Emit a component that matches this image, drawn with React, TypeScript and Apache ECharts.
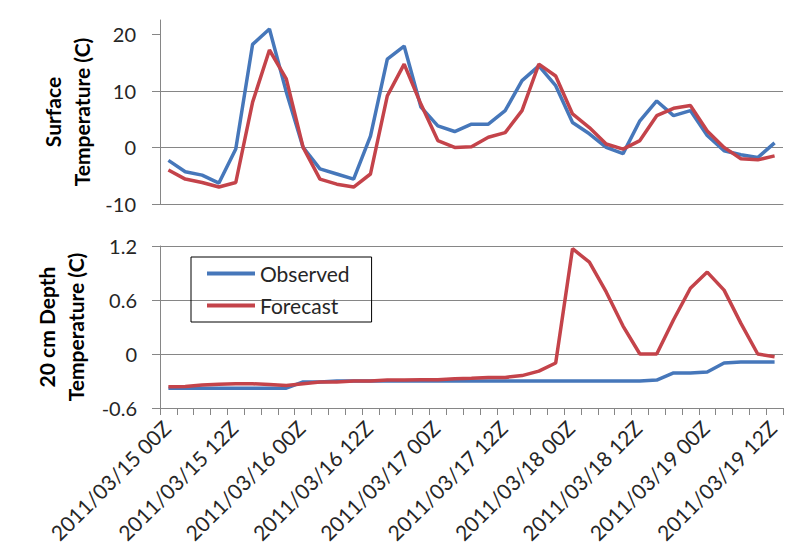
import React, { useEffect, useRef } from "react";
import * as echarts from "echarts";

const categories = [
  "2011/03/15 00Z", "2011/03/15 03Z", "2011/03/15 06Z", "2011/03/15 09Z",
  "2011/03/15 12Z", "2011/03/15 15Z", "2011/03/15 18Z", "2011/03/15 21Z",
  "2011/03/16 00Z", "2011/03/16 03Z", "2011/03/16 06Z", "2011/03/16 09Z",
  "2011/03/16 12Z", "2011/03/16 15Z", "2011/03/16 18Z", "2011/03/16 21Z",
  "2011/03/17 00Z", "2011/03/17 03Z", "2011/03/17 06Z", "2011/03/17 09Z",
  "2011/03/17 12Z", "2011/03/17 15Z", "2011/03/17 18Z", "2011/03/17 21Z",
  "2011/03/18 00Z", "2011/03/18 03Z", "2011/03/18 06Z", "2011/03/18 09Z",
  "2011/03/18 12Z", "2011/03/18 15Z", "2011/03/18 18Z", "2011/03/18 21Z",
  "2011/03/19 00Z", "2011/03/19 03Z", "2011/03/19 06Z", "2011/03/19 09Z",
  "2011/03/19 12Z",
];

const observedSurface = [
  -2.3, -4.3, -4.9, -6.3, -0.3, 18.2, 20.9, 9.8, 0.0, -3.8,
  -4.7, -5.6, 2.0, 15.6, 17.9, 7.1, 3.8, 2.8, 4.1, 4.1,
  6.5, 11.8, 14.4, 10.9, 4.4, 2.4, 0.0, -1.1, 4.7, 8.2,
  5.6, 6.5, 2.1, -0.6, -1.3, -1.8, 0.8,
];

const forecastSurface = [
  -4.0, -5.6, -6.2, -7.0, -6.2, 8.0, 17.2, 12.1, 0.0, -5.6,
  -6.5, -7.0, -4.7, 9.1, 14.7, 7.6, 1.2, 0.0, 0.1, 1.8,
  2.6, 6.5, 14.7, 12.6, 5.9, 3.5, 0.6, -0.3, 1.2, 5.6,
  6.9, 7.4, 2.9, 0.0, -2.0, -2.2, -1.5,
];

const observedDepth = [
  -0.38, -0.38, -0.38, -0.38, -0.38, -0.38, -0.38, -0.38, -0.31, -0.31,
  -0.3, -0.3, -0.3, -0.3, -0.3, -0.3, -0.3, -0.3, -0.3, -0.3,
  -0.3, -0.3, -0.3, -0.3, -0.3, -0.3, -0.3, -0.3, -0.3, -0.29,
  -0.21, -0.21, -0.2, -0.1, -0.09, -0.09, -0.09,
];

const forecastDepth = [
  -0.365, -0.36, -0.345, -0.335, -0.33, -0.33, -0.34, -0.35, -0.33, -0.31,
  -0.31, -0.3, -0.3, -0.29, -0.29, -0.285, -0.285, -0.275, -0.27, -0.26,
  -0.26, -0.24, -0.19, -0.1, 1.17, 1.02, 0.69, 0.31, 0.0, 0.0,
  0.38, 0.73, 0.91, 0.71, 0.34, 0.0, -0.03,
];

const surfaceTicks = [-10, 0, 10, 20];
const seriesNames = ["Observed", "Forecast"];

const FONT = "Lato";
const GRID = "#868686";
const TEXT = "#262626";
const BLUE = "#4677BA";
const RED = "#C4434A";

export default function App() {
  const ref = useRef<HTMLDivElement>(null);

  useEffect(() => {
    if (!ref.current) return;
    const chart = echarts.init(ref.current, null, { renderer: "svg" });
    const option: any = {
      animation: false,
      backgroundColor: "#ffffff",
      textStyle: { fontFamily: FONT },
      grid: [
        { left: 160, right: 2, top: 20, height: 184, outerBoundsMode: "none" },
        { left: 160, right: 2, top: 246, height: 162, outerBoundsMode: "none" },
      ],
      legend: {
        data: seriesNames,
        orient: "vertical",
        left: 191,
        top: 257,
        icon: "rect",
        itemWidth: 48,
        itemHeight: 4,
        itemGap: 7,
        padding: [4, 22, 4, 16],
        borderColor: "#000",
        borderWidth: 1,
        textStyle: { fontSize: 21, color: TEXT, lineHeight: 25, fontFamily: FONT },
      },
      xAxis: [
        {
          type: "category",
          gridIndex: 0,
          data: categories,
          boundaryGap: true,
          axisLine: { show: true, onZero: false, lineStyle: { color: GRID, width: 1 } },
          axisTick: { show: false },
          axisLabel: { show: false },
          splitLine: { show: false },
        },
        {
          type: "category",
          gridIndex: 1,
          data: categories,
          boundaryGap: true,
          axisLine: { show: true, onZero: false, lineStyle: { color: GRID, width: 1 } },
          axisTick: { show: true, interval: 0, length: 7, lineStyle: { color: GRID } },
          axisLabel: {
            interval: 3,
            rotate: 45,
            fontSize: 21,
            color: TEXT,
            margin: 14,
            padding: [0, 3, 0, 0],
            fontFamily: FONT,
          },
          splitLine: { show: false },
        },
      ],
      yAxis: [
        {
          type: "value",
          gridIndex: 0,
          min: -10,
          max: 22.5,
          interval: 10,
          name: "Surface\nTemperature (C)",
          nameLocation: "middle",
          nameGap: 64,
          nameMoveOverlap: false,
          nameTextStyle: { fontWeight: "bold", fontSize: 21, lineHeight: 29, color: "#000", fontFamily: FONT },
          axisLine: { show: true, lineStyle: { color: GRID } },
          axisTick: { show: true, length: 8, lineStyle: { color: GRID }, customValues: surfaceTicks },
          axisLabel: { fontSize: 20, color: TEXT, margin: 24, customValues: surfaceTicks, fontFamily: FONT },
          splitLine: { show: true, showMaxLine: false, lineStyle: { color: GRID } },
        },
        {
          type: "value",
          gridIndex: 1,
          min: -0.6,
          max: 1.2,
          interval: 0.6,
          name: "20 cm Depth\nTemperature (C)",
          nameLocation: "middle",
          nameGap: 70,
          nameMoveOverlap: false,
          nameTextStyle: { fontWeight: "bold", fontSize: 21, lineHeight: 29, color: "#000", fontFamily: FONT },
          axisLine: { show: true, lineStyle: { color: GRID } },
          axisTick: { show: true, length: 8, lineStyle: { color: GRID } },
          axisLabel: { fontSize: 20, color: TEXT, margin: 23, fontFamily: FONT },
          splitLine: { show: true, lineStyle: { color: GRID } },
        },
      ],
      series: [
        {
          name: seriesNames[0],
          type: "line",
          xAxisIndex: 0,
          yAxisIndex: 0,
          data: observedSurface,
          symbol: "none",
          color: BLUE,
          lineStyle: { width: 3.5, color: BLUE },
        },
        {
          name: seriesNames[1],
          type: "line",
          xAxisIndex: 0,
          yAxisIndex: 0,
          data: forecastSurface,
          symbol: "none",
          color: RED,
          lineStyle: { width: 3.5, color: RED },
        },
        {
          name: seriesNames[0],
          type: "line",
          xAxisIndex: 1,
          yAxisIndex: 1,
          data: observedDepth,
          symbol: "none",
          color: BLUE,
          lineStyle: { width: 3.5, color: BLUE },
        },
        {
          name: seriesNames[1],
          type: "line",
          xAxisIndex: 1,
          yAxisIndex: 1,
          data: forecastDepth,
          symbol: "none",
          color: RED,
          lineStyle: { width: 3.5, color: RED },
        },
      ],
    };
    chart.setOption(option);
    return () => chart.dispose();
  }, []);

  return (
    <div
      ref={ref}
      style={{ position: "absolute", left: 0, top: 0, width: 785, height: 556, background: "#fff" }}
    />
  );
}
